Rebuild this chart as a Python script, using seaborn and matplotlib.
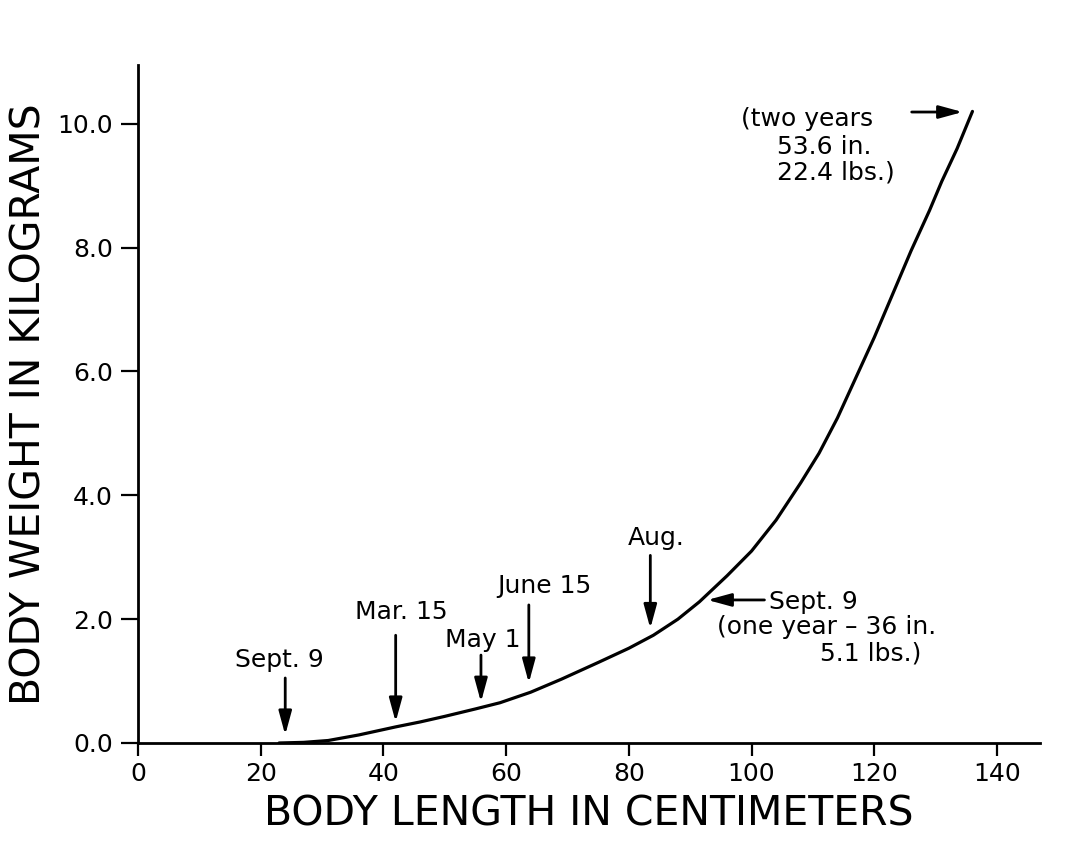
import numpy as np
import pandas as pd
import matplotlib
matplotlib.use("Agg")
import matplotlib.pyplot as plt
import seaborn as sns

# growth curve (length cm, weight kg)
length_cm = [23, 27, 31, 36, 42, 46, 50, 55, 59, 64, 69, 75, 80, 84, 88, 91.5,
             96, 100, 104, 108, 111, 114, 117, 120, 123, 126, 129, 131, 133.5, 136]
weight_kg = [0.0, 0.01, 0.04, 0.13, 0.26, 0.34, 0.43, 0.55, 0.65, 0.82, 1.03, 1.30, 1.53, 1.74, 2.0, 2.28,
             2.7, 3.1, 3.6, 4.2, 4.68, 5.25, 5.9, 6.55, 7.25, 7.95, 8.6, 9.07, 9.6, 10.2]

# dated arrows: label, arrow x, arrow top y, arrow tip y, label x, label y
date_labels = ["Sept. 9", "Mar. 15", "May 1", "June 15", "Aug."]
date_x = [24, 42, 55.9, 63.7, 83.5]
date_top = [1.05, 1.74, 1.42, 2.23, 3.03]
date_tip = [0.13, 0.34, 0.66, 0.97, 1.85]
date_lx = [23.1, 43.0, 56.2, 66.3, 84.5]
date_ly = [1.34, 2.11, 1.66, 2.53, 3.31]

xticks = [0, 20, 40, 60, 80, 100, 120, 140]
yticks = [0.0, 2.0, 4.0, 6.0, 8.0, 10.0]

df = pd.DataFrame({"length": length_cm, "weight": weight_kg})

sns.set_style("ticks")
plt.rcParams["font.family"] = ["DejaVu Sans"]
plt.rcParams["text.color"] = "black"
plt.rcParams["axes.labelcolor"] = "black"
plt.rcParams["xtick.color"] = "black"
plt.rcParams["ytick.color"] = "black"

fig = plt.figure(figsize=(10.72, 8.47), dpi=100)
ax = fig.add_axes([0.1287, 0.1228, 0.8414, 0.8005])

sns.lineplot(data=df, x="length", y="weight", color="black", linewidth=2.3, ax=ax)

ax.set_xlim(0, 147)
ax.set_ylim(0, 10.95)
ax.set_xticks(xticks)
ax.set_xticklabels([str(t) for t in xticks], fontsize=18)
ax.set_yticks(yticks)
ax.set_yticklabels([f"{t:.1f}" for t in yticks], fontsize=18)
ax.tick_params(axis="y", length=12, width=1.6, pad=6)
ax.tick_params(axis="x", length=9, width=1.6, pad=5)

sns.despine(ax=ax)
for s in ["left", "bottom"]:
    ax.spines[s].set_linewidth(2.0)
    ax.spines[s].set_color("black")

ax.set_xlabel("BODY LENGTH IN CENTIMETERS", fontsize=29.5, labelpad=6)
ax.set_ylabel("BODY WEIGHT IN KILOGRAMS", fontsize=29.5, labelpad=6)

arrow = dict(arrowstyle="-|>,head_length=1.1,head_width=0.3", color="black", lw=2.0,
             mutation_scale=13, shrinkA=0, shrinkB=0)

fs = 18
for lab, x, top, tip, lx, ly in zip(date_labels, date_x, date_top, date_tip, date_lx, date_ly):
    ax.annotate("", xy=(x, tip), xytext=(x, top), arrowprops=arrow)
    ax.text(lx, ly, lab, fontsize=fs, ha="center", va="center")

# one year marker
ax.annotate("", xy=(92.8, 2.31), xytext=(102.1, 2.31), arrowprops=arrow)
ax.text(102.9, 2.27, "Sept. 9", fontsize=fs, ha="left", va="center")
ax.text(94.3, 1.87, "(one year – 36 in.", fontsize=fs, ha="left", va="center")
ax.text(111.1, 1.45, "5.1 lbs.)", fontsize=fs, ha="left", va="center")

# two years marker
ax.annotate("", xy=(134.4, 10.19), xytext=(126.1, 10.19), arrowprops=arrow)
ax.text(98.2, 10.08, "(two years", fontsize=fs, ha="left", va="center")
ax.text(104.1, 9.63, "53.6 in.", fontsize=fs, ha="left", va="center")
ax.text(104.1, 9.21, "22.4 lbs.)", fontsize=fs, ha="left", va="center")

fig.savefig("out.png", dpi=100, facecolor="white")
